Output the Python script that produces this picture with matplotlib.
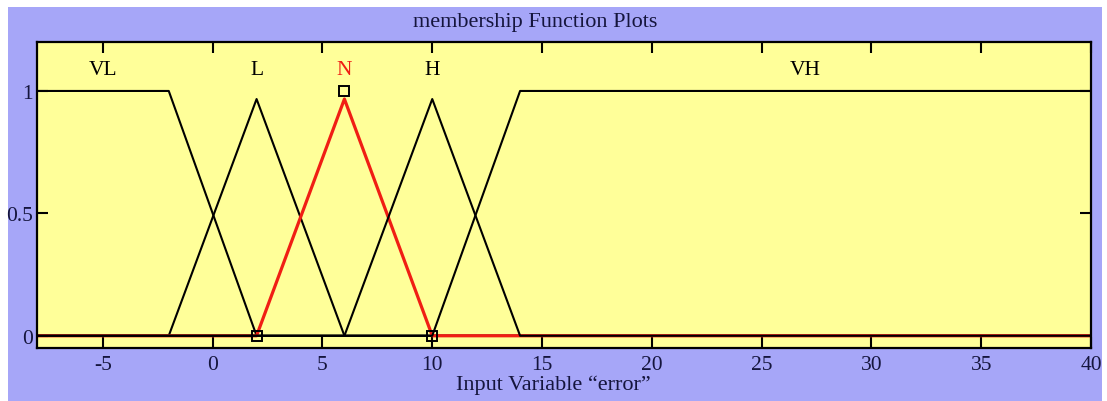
import matplotlib
matplotlib.use('Agg')
import matplotlib.pyplot as plt
from matplotlib.patches import Rectangle

# membership functions of the "error" input, as corner points
mf_names = ['VL', 'L', 'N', 'H', 'VH']
mf_x = [
    [-8, -2, 2, 40],
    [-8, -2, 2, 6, 40],
    [-8, 2, 6, 10, 40],
    [-8, 6, 10, 14, 40],
    [-8, 10, 14, 40],
]
mf_y = [
    [1, 1, 0, 0],
    [0, 0, 0.967, 0, 0],
    [0, 0, 0.967, 0, 0],
    [0, 0, 0.967, 0, 0],
    [0, 0, 1, 1],
]
label_x = [-5, 2, 6, 10, 27]
selected = 'N'
# parameters of the selected function, shown as handles
sel_params = [2, 6, 10]
sel_levels = [0, 1, 0]

x_ticks = [-5, 0, 5, 10, 15, 20, 25, 30, 35, 40]
y_ticks = [0, 0.5, 1]

bg_blue = '#a6a6f8'
ax_yellow = '#ffff99'
navy = '#15153d'
red = '#f01e14'

plt.rcParams['font.family'] = ['Liberation Serif', 'DejaVu Serif']

W, H = 1107, 402
fig = plt.figure(figsize=(W / 100, H / 100), dpi=100, facecolor='white')
fig.patches.append(Rectangle((8 / W, 0), (1102 - 8) / W, (H - 8) / H,
                             transform=fig.transFigure, facecolor=bg_blue,
                             edgecolor='none', zorder=-10))

ax = fig.add_axes([37 / W, (H - 349) / H, (1091 - 37) / W, (349 - 43) / H])
ax.set_facecolor(ax_yellow)

for name, xs, ys, lx in zip(mf_names, mf_x, mf_y, label_x):
    if name == selected:
        ax.plot(xs, ys, color=red, lw=2.3, solid_joinstyle='round')
        ax.text(lx, 1.05, name, color=red, ha='center', va='bottom', fontsize=15.5)
    else:
        ax.plot(xs, ys, color='black', lw=1.5, solid_joinstyle='round')
        ax.text(lx, 1.05, name, color='black', ha='center', va='bottom', fontsize=15.5)

ax.plot(sel_params, sel_levels, linestyle='none', marker='s', markersize=7,
        markerfacecolor='none', markeredgecolor='black', markeredgewidth=1.4)

ax.set_xlim(-8, 40)
ax.set_ylim(-0.05, 1.2)
ax.set_xticks(x_ticks)
ax.set_yticks(y_ticks)
ax.set_xticklabels([str(t) for t in x_ticks])
ax.set_yticklabels(['0', '0.5', '1'])
ax.tick_params(direction='in', length=8, width=1.5, top=True, right=True,
               labelsize=15.5, labelcolor=navy, pad=5)
ax.tick_params(axis='y', pad=3)
for s in ax.spines.values():
    s.set_linewidth(1.6)

fig.text(535 / W, (H - 22) / H, 'membership Function Plots', ha='center',
         va='center', fontsize=16, color=navy)
fig.text(553 / W, (H - 385) / H, 'Input Variable \u201cerror\u201d', ha='center',
         va='center', fontsize=16, color=navy)

fig.savefig('out.png', dpi=100, facecolor='white')
